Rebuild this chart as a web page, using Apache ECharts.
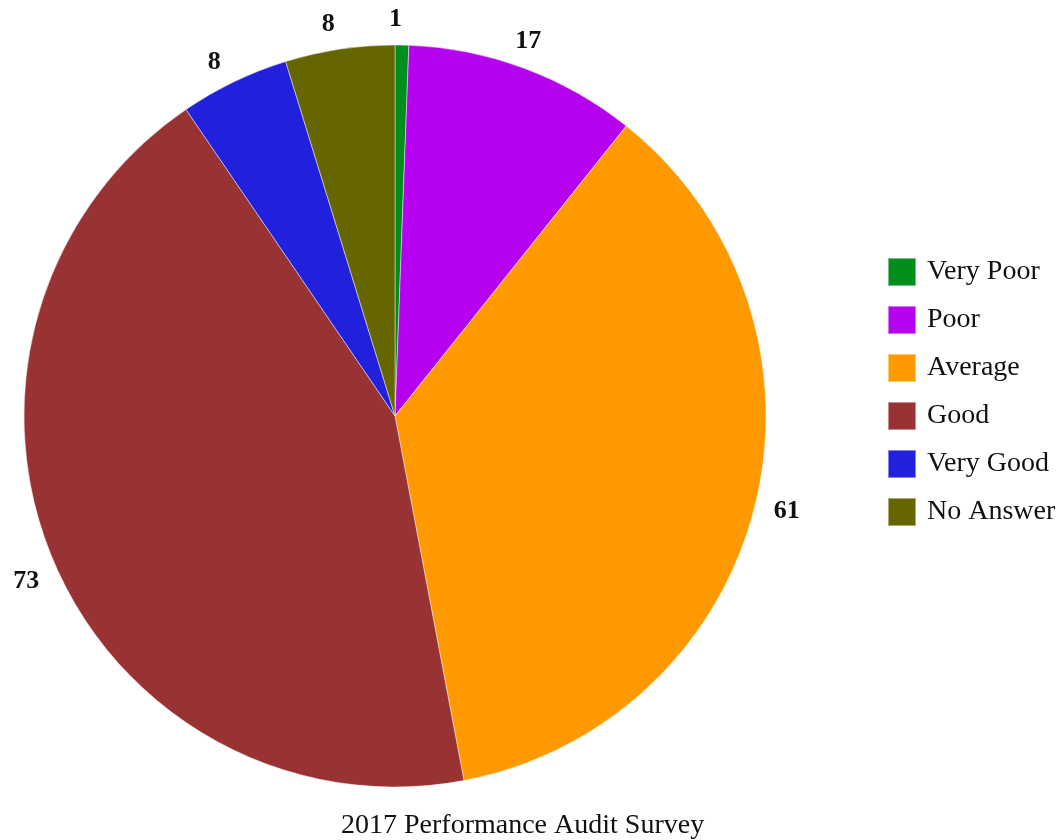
<!DOCTYPE html>
<html>
<head>
<meta charset="utf-8">
<script src="https://cdn.jsdelivr.net/npm/echarts@6/dist/echarts.min.js"></script>
<style>
html,body{margin:0;padding:0;background:#fff;}
#chart{width:1061px;height:840px;}
</style>
</head>
<body>
<div id="chart"></div>
<script>
const categories = ['Very Poor', 'Poor', 'Average', 'Good', 'Very Good', 'No Answer'];
const values = [1, 17, 61, 73, 8, 8];
const colors = ['#008f1c', '#b600f0', '#ff9900', '#993333', '#2121dd', '#666600'];
const titleText = '2017 Performance Audit Survey';

const FONT = '"Liberation Serif", "Times New Roman", serif';
const data = categories.map((c, i) => ({ name: c, value: values[i], itemStyle: { color: colors[i] } }));
const labelData = categories.map((c, i) => ({ name: c, value: values[i] }));

const chart = echarts.init(document.getElementById('chart'), null, { renderer: 'canvas' });
chart.setOption({
  animation: false,
  backgroundColor: '#ffffff',
  color: colors,
  title: {
    text: titleText,
    left: 336,
    top: 807,
    textStyle: { fontFamily: FONT, fontSize: 28, fontWeight: 'normal', color: '#111' }
  },
  legend: {
    orient: 'vertical',
    left: 887,
    top: 257,
    padding: 0,
    itemWidth: 28,
    itemHeight: 28,
    itemGap: 18,
    icon: 'rect',
    data: categories,
    textStyle: { fontFamily: FONT, fontSize: 28, color: '#111', padding: [0, 0, 0, 6] }
  },
  series: [
    {
      type: 'pie',
      center: [395, 416],
      radius: [0, 371],
      startAngle: 90,
      clockwise: true,
      avoidLabelOverlap: false,
      label: { show: false },
      labelLine: { show: false },
      itemStyle: { borderColor: 'rgba(255,255,255,0.45)', borderWidth: 1 },
      emphasis: { disabled: true },
      data: data
    },
    {
      type: 'pie',
      center: [395, 416],
      radius: [395, 403],
      startAngle: 91,
      clockwise: true,
      silent: true,
      avoidLabelOverlap: false,
      itemStyle: { color: 'rgba(0,0,0,0)' },
      label: {
        show: true,
        position: 'inside',
        formatter: '{c}',
        fontFamily: FONT,
        fontSize: 26,
        fontWeight: 'bold',
        color: '#111',
        offset: [0, 5]
      },
      labelLine: { show: false },
      emphasis: { disabled: true },
      data: labelData
    }
  ]
});
</script>
</body>
</html>
